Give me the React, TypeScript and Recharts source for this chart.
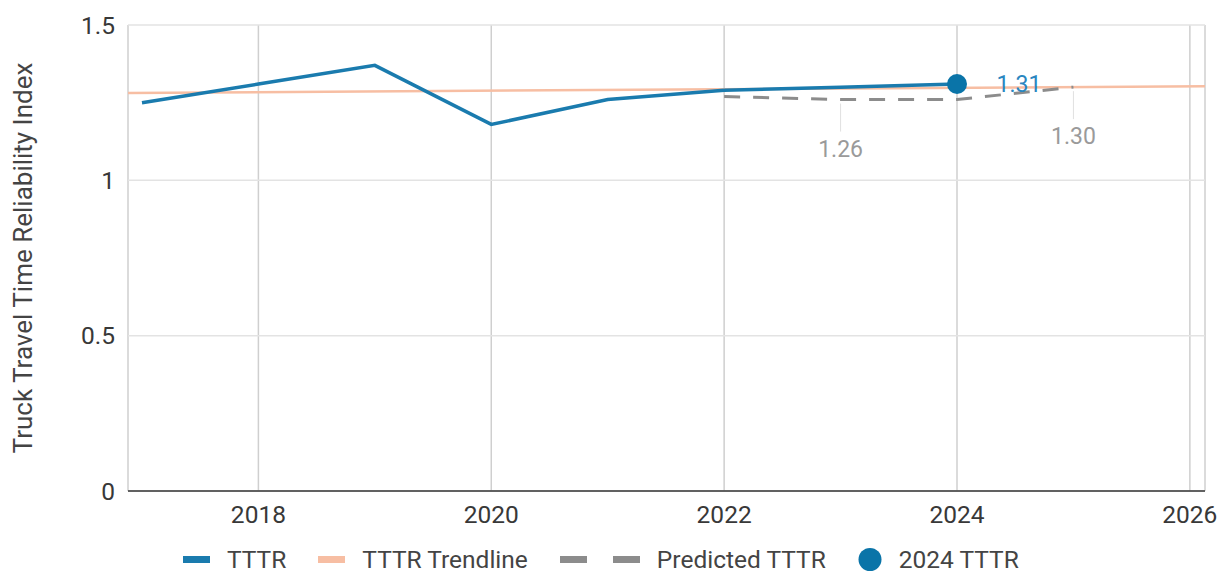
import { ComposedChart, Line, Scatter, XAxis, YAxis, CartesianGrid, Legend, LabelList } from 'recharts'

const tttrYears = [2017, 2018, 2019, 2020, 2021, 2022, 2023, 2024]
const tttrValues = [1.25, 1.31, 1.37, 1.18, 1.26, 1.29, 1.3, 1.31]

const trendYears = [2016.88, 2026.13]
const trendValues = [1.281, 1.303]

const predictedYears = [2022, 2023, 2024, 2025]
const predictedValues = [1.27, 1.26, 1.26, 1.3]
const predictedLabelYears = [2023, 2025]

const highlightYear = 2024
const highlightValue = 1.31

const xTicks = [2018, 2020, 2022, 2024, 2026]
const yTicks = [0, 0.5, 1, 1.5]

const legendItems = ['TTTR', 'TTTR Trendline', 'Predicted TTTR', '2024 TTTR']

const BLUE = '#1a7bae'
const DOT = '#0a74a8'
const SALMON = '#f7bea3'
const GREY = '#8c8c8c'
const FONT = 'Roboto, sans-serif'

const tttrData = tttrYears.map((year, i) => ({ year, value: tttrValues[i] }))
const trendData = trendYears.map((year, i) => ({ year, value: trendValues[i] }))
const predictedData = predictedYears.map((year, i) => ({ year, value: predictedValues[i] }))
const highlightData = [{ year: highlightYear, value: highlightValue }]

function PredictedLabel(props: any) {
  const { x, y, index } = props
  const point = predictedData[index]
  if (!point || !predictedLabelYears.includes(point.year)) return null
  return (
    <g>
      <line x1={x} x2={x} y1={y + 4} y2={y + 32} stroke="#e0e0e0" strokeWidth={1} />
      <text x={x} y={y + 57} textAnchor="middle" fontSize={23} fill="#9a9a9a" fontFamily={FONT}>
        {point.value.toFixed(2)}
      </text>
    </g>
  )
}

function LegendContent() {
  const icon = (i: number) => {
    if (i === 0) return <rect x={0} y={8} width={27} height={7} fill={BLUE} />
    if (i === 1) return <rect x={0} y={8} width={27} height={7} fill={SALMON} />
    if (i === 2)
      return (
        <g>
          <rect x={0} y={8} width={27} height={7} fill={GREY} />
          <rect x={53} y={8} width={27} height={7} fill={GREY} />
        </g>
      )
    return <circle cx={12} cy={11.5} r={11.5} fill={DOT} />
  }
  const iconWidth = [27, 27, 80, 24]
  return (
    <div style={{ display: 'flex', alignItems: 'center', height: 36, paddingLeft: 183, fontFamily: FONT, fontSize: 24.5, color: '#444' }}>
      {legendItems.map((name, i) => (
        <div key={name} style={{ display: 'flex', alignItems: 'center', marginRight: 32 }}>
          <svg width={iconWidth[i]} height={23} style={{ marginRight: 17 }}>
            {icon(i)}
          </svg>
          <span>{name}</span>
        </div>
      ))}
    </div>
  )
}

export default function App() {
  return (
    <div style={{ position: 'absolute', left: 0, top: 0, width: 1224, height: 577, background: '#fff' }}>
      <ComposedChart width={1224} height={577} margin={{ top: 25, right: 19, left: 0, bottom: 0 }}>
        <CartesianGrid horizontal={false} stroke="#cfcfcf" strokeWidth={1.5} />
        <CartesianGrid vertical={false} stroke="#e3e3e3" strokeWidth={1.5} />
        <XAxis
          type="number"
          dataKey="year"
          domain={[2016.88, 2026.13]}
          ticks={xTicks}
          allowDataOverflow
          tickLine={false}
          tickSize={0}
          tickMargin={15}
          height={50}
          stroke="#333"
          strokeWidth={1.5}
          tick={{ fontSize: 24.5, fill: '#383838', fontFamily: FONT }}
        />
        <YAxis
          type="number"
          dataKey="value"
          domain={[0, 1.5]}
          ticks={yTicks}
          axisLine={false}
          tickLine={false}
          tickSize={0}
          tickMargin={13}
          width={128}
          tick={{ fontSize: 24.5, fill: '#383838', fontFamily: FONT }}
          label={{
            value: 'Truck Travel Time Reliability Index',
            angle: -90,
            position: 'insideLeft',
            offset: 23,
            style: { textAnchor: 'middle', fontSize: 26, fill: '#444', fontFamily: FONT },
          }}
        />
        <Legend verticalAlign="bottom" content={<LegendContent />} />
        <Line data={trendData} dataKey="value" stroke={SALMON} strokeWidth={2.5} dot={false} isAnimationActive={false} />
        <Line
          data={predictedData}
          dataKey="value"
          stroke={GREY}
          strokeWidth={3}
          strokeDasharray="16 13"
          dot={false}
          isAnimationActive={false}
          label={<PredictedLabel />}
        />
        <Line data={tttrData} dataKey="value" stroke={BLUE} strokeWidth={3.5} dot={false} isAnimationActive={false} />
        <Scatter
          data={highlightData}
          dataKey="value"
          fill={DOT}
          isAnimationActive={false}
          shape={(p: any) => <circle cx={p.cx} cy={p.cy} r={10} fill={DOT} />}
        >
          <LabelList dataKey="value" position="right" offset={35} fill="#2a86c0" fontSize={23} fontFamily={FONT} formatter={(v: any) => Number(v).toFixed(2)} />
        </Scatter>
      </ComposedChart>
    </div>
  )
}
